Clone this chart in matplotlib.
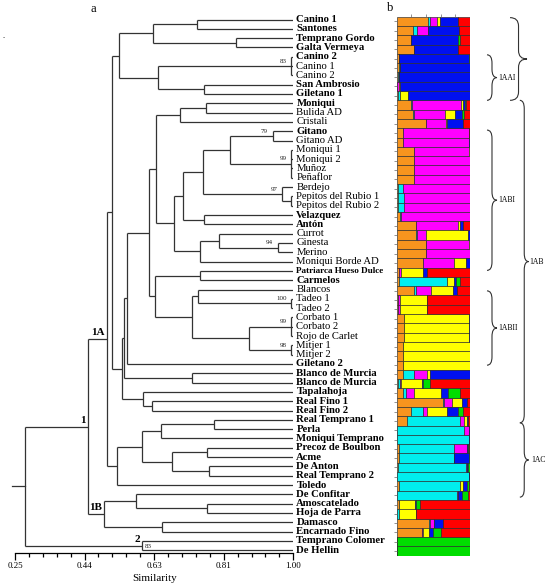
import numpy as np
import matplotlib.pyplot as plt
from matplotlib.path import Path
import matplotlib.patches as mpatches
from matplotlib.transforms import blended_transform_factory

plt.rcParams['font.family'] = ['Liberation Serif', 'DejaVu Serif']

# ---- leaves (top to bottom) ----
leaves = ["Canino 1", "Santones", "Temprano Gordo", "Galta Vermeya", "Canino 2",
          "Canino 1", "Canino 2", "San Ambrosio", "Giletano 1", "Moniqui",
          "Bulida AD", "Cristali", "Gitano", "Gitano AD", "Moniqui 1",
          "Moniqui 2", "Muñoz", "Peñaflor", "Berdejo", "Pepitos del Rubio 1",
          "Pepitos del Rubio 2", "Velazquez", "Antón", "Currot", "Ginesta",
          "Merino", "Moniqui Borde AD", "Patriarca Hueso Dulce", "Carmelos", "Blancos",
          "Tadeo 1", "Tadeo 2", "Corbato 1", "Corbato 2", "Rojo de Carlet",
          "Mitjer 1", "Mitjer 2", "Giletano 2", "Blanco de Murcia", "Blanco de Murcia",
          "Tapalahoja", "Real Fino 1", "Real Fino 2", "Real Temprano 1", "Perla",
          "Moniqui Temprano", "Precoz de Boulbon", "Acme", "De Anton", "Real Temprano 2",
          "Toledo", "De Confitar", "Amoscatelado", "Hoja de Parra", "Damasco",
          "Encarnado Fino", "Temprano Colomer", "De Hellin"]
bold = [1, 1, 1, 1, 1, 0, 0, 1, 1, 1,
        0, 0, 1, 0, 0, 0, 0, 0, 0, 0,
        0, 1, 1, 0, 0, 0, 0, 1, 1, 0,
        0, 0, 0, 0, 0, 0, 0, 1, 1, 1,
        1, 1, 1, 1, 1, 1, 1, 1, 1, 1,
        1, 1, 1, 1, 1, 1, 1, 1]

# ---- dendrogram merges: (node, children, similarity) ----
node_keys = ["A", "B", "C", "D", "E", "F", "G", "H", "I", "J", "K", "L", "N", "M",
             "O", "P2", "P", "Q", "R", "S", "T", "U", "W", "Z", "Y", "AB", "AC",
             "AA", "X", "AD", "V", "AE", "AG", "AF", "AH", "AI", "AK", "AJ",
             "AL", "AM", "AN", "AO", "AP", "AQ", "AR", "AS", "AT", "AU", "AV",
             "AW", "AX", "AY", "AZ"]
node_kids = [[0, 1], [2, 3], ["A", "B"], [4, 5, 6], [7, 8], ["D", "E"], ["C", "F"],
             [9, 10], ["H", 11], [12, 13], [14, 15, 16, 17], ["J", "K"], [19, 20],
             [18, "N"], ["L", "M"], [21, 22], ["O", "P2"], [24, 25], [23, "Q"],
             ["R", 26], ["P", "S"], ["I", "T"], [27, 28], [30, 31], [29, "Z"],
             [32, 33, 34], [35, 36], ["AB", "AC"], ["Y", "AA"], ["W", "X"],
             ["U", "AD"], ["V", 37], [38, 39], ["AE", "AG"], [41, 42], [40, "AH"],
             ["AF", "AI"], ["G", "AK"], [43, 44], ["AL", 45], [46, 47], [48, 49],
             ["AN", "AO"], ["AM", "AP"], ["AQ", 50], ["AJ", "AR"], [52, 53],
             [51, "AT"], [54, 55], ["AU", "AV"], ["AS", "AW"], [56, 57], ["AX", "AY"]]
node_sim = [0.741, 0.846, 0.622, 0.995, 0.759, 0.635, 0.530, 0.765, 0.695, 0.945,
            0.995, 0.830, 0.995, 0.970, 0.757, 0.759, 0.703, 0.959, 0.800, 0.749,
            0.679, 0.630, 0.749, 0.995, 0.743, 0.995, 0.995, 0.881, 0.727, 0.627,
            0.611, 0.552, 0.727, 0.544, 0.619, 0.595, 0.538, 0.512, 0.786, 0.644,
            0.768, 0.773, 0.673, 0.592, 0.525, 0.498, 0.768, 0.576, 0.646, 0.490,
            0.447, 0.592, 0.277]
support = {"D": "83", "J": "79", "K": "99", "M": "97", "Q": "94",
           "Z": "100", "AB": "99", "AC": "98"}
group_lab = {"AS": "1A", "AX": "1", "AW": "1B", "AY": "2"}

# ---- structure proportions per row (K = 7) ----
orange = [.43, .227, .195, .24, .03, .03, .02, .01, .02, .195, .227, .395, .09, .09, .236,
          .24, .24, .24, .02, .02, .02, .05, .26, .27, .40, .40, .36, .03, .03, .24,
          .02, .02, .10, .10, .10, .08, .08, .08, .09, .02, .09, .63, .20, .145, .01,
          .01, .03, .03, .02, .01, .03, .01, .036, 0, .445, .34, .005, .005]
cyan = [.02, .055, 0, 0, 0, .01, .015, 0, .03, .01, .01, .01, 0, 0, 0,
        0, 0, 0, .07, .08, .08, .01, .01, .01, 0, 0, 0, 0, .66, .02,
        0, 0, 0, 0, 0, 0, 0, 0, .15, .03, .035, .01, .16, .72, .91,
        .97, .75, .75, .92, .98, .83, .81, 0, .035, .01, .01, 0, 0]
magenta = [.10, .14, 0, 0, 0, 0, 0, .02, 0, .67, .418, .27, .89, .895, .75,
           .755, .76, .76, .91, .90, .90, .94, .57, .12, .58, .60, .42, .03, 0, .21,
           .02, .02, 0, 0, 0, 0, 0, 0, .17, .01, .115, .11, .05, .055, .06,
           0, .18, 0, .02, 0, 0, .01, 0, 0, .05, .01, 0, 0]
yellow = [.045, 0, 0, 0, 0, 0, 0, .02, .11, .035, .14, .005, .01, 0, .014,
          .005, 0, 0, 0, 0, 0, 0, .02, .57, .02, 0, .17, .30, .09, .30,
          .38, .38, .89, .89, .89, .92, .92, .92, .04, .28, .37, .14, .27, .035, 0,
          0, 0, 0, 0, 0, .04, 0, .214, .23, .01, .08, 0, 0]
blue = [.235, .425, .645, .59, .96, .96, .965, .95, .84, .02, .10, .22, 0, .015, 0,
        0, 0, 0, 0, 0, 0, 0, .04, .03, 0, 0, .05, .06, .03, .05,
        0, 0, .01, .01, .01, 0, 0, 0, .55, .02, .09, .065, .15, .02, .02,
        .02, .01, .20, .01, .01, .06, .06, .01, .005, .11, .06, .005, .005]
green = [0, 0, .02, .01, .01, 0, 0, 0, 0, .015, .02, 0, 0, 0, 0,
         0, 0, 0, 0, 0, 0, 0, .01, 0, 0, 0, 0, 0, .05, 0,
         0, 0, 0, 0, 0, 0, 0, 0, 0, .10, .165, 0, .07, 0, 0,
         0, .02, .02, .03, 0, .02, .08, .064, 0, .01, .10, .99, .99]
red = [.17, .153, .14, .16, 0, 0, 0, 0, 0, .055, .085, .10, .01, 0, 0,
       0, 0, 0, 0, 0, 0, 0, .09, 0, 0, 0, 0, .58, .14, .18,
       .58, .58, 0, 0, 0, 0, 0, 0, 0, .54, .135, .045, .11, .025, 0,
       0, .01, 0, 0, 0, .02, .03, .676, .73, .365, .40, 0, 0]
clusters = [orange, cyan, magenta, yellow, blue, green, red]
cluster_colors = ['#F7941E', '#00EEEE', '#FF00FF', '#FFFF00', '#0010F0', '#00DD00', '#FF0000']

fig = plt.figure(figsize=(5.51, 5.87), dpi=100)

# ================= a: dendrogram =================
ax = fig.add_axes([15 / 551, 1 - 552.7 / 587, 278.3 / 551, 537.85 / 587])
ax.set_xlim(0.25, 1.0)
ax.set_ylim(57.27, -0.5)
lc = '#333333'
lw = 0.9

pos = {i: (1.0, float(i)) for i in range(len(leaves))}
for key, kids, sim in zip(node_keys, node_kids, node_sim):
    ys = [pos[k][1] for k in kids]
    ax.plot([sim, sim], [min(ys), max(ys)], color=lc, lw=lw, solid_capstyle='butt')
    for k in kids:
        ax.plot([sim, pos[k][0]], [pos[k][1], pos[k][1]], color=lc, lw=lw,
                solid_capstyle='butt')
    pos[key] = (sim, (min(ys) + max(ys)) / 2)

root_sim, root_y = pos["AZ"]
ax.plot([0.242, root_sim], [root_y, root_y], color=lc, lw=lw, clip_on=False)

for key, txt in support.items():
    ax.annotate(txt, pos[key], xytext=(-3.5, 3.5), textcoords='offset points',
                ha='right', va='center', fontsize=5, color='#222')
ax.annotate("83", pos["AY"], xytext=(2, -0.5), textcoords='offset points',
            ha='left', va='center', fontsize=5, color='#222')
for key, txt in group_lab.items():
    ax.annotate(txt, pos[key], xytext=(-1.5, 1.2), textcoords='offset points',
                ha='right', va='bottom', fontsize=8, fontweight='bold')

for i, name in enumerate(leaves):
    ax.annotate(name, (1.0, i), xytext=(2.2, 0), textcoords='offset points',
                ha='left', va='center', annotation_clip=False,
                fontsize=6.6 if i == 27 else 7.7,
                fontweight='bold' if bold[i] else 'normal')

ticks = 0.25 + 0.0375 * np.arange(21)
ax.set_xticks(ticks[::5])
ax.set_xticklabels(["0.25", "0.44", "0.63", "0.81", "1.00"])
ax.set_xticks(ticks, minor=True)
ax.tick_params(axis='x', which='major', length=5, width=0.9, labelsize=6.5, pad=1.5)
ax.tick_params(axis='x', which='minor', length=3, width=0.9)
ax.set_yticks([])
for s in ['left', 'right', 'top']:
    ax.spines[s].set_visible(False)
ax.spines['bottom'].set_linewidth(0.9)
ax.set_xlabel("Similarity", fontsize=8, labelpad=3)

# ================= b: structure bars =================
bax = fig.add_axes([396.7 / 551, 1 - 555.7 / 587, 73.3 / 551, 539 / 587])
rows = np.arange(len(leaves))
left = np.zeros(len(leaves))
for vals, col in zip(clusters, cluster_colors):
    vals = np.array(vals)
    bax.barh(rows, vals, left=left, height=1.0, color=col,
             edgecolor='#2a2a2a', linewidth=0.45)
    left += vals
bax.set_xlim(0, 1)
bax.set_ylim(57.5, -0.5)
for s in bax.spines.values():
    s.set_visible(False)
bax.xaxis.tick_top()
bax.set_xticks([0.2, 0.4, 0.6, 0.8])
bax.set_xticklabels([])
bax.set_yticks(rows)
bax.set_yticklabels([])
bax.tick_params(length=2, width=0.5, color='#666')


def brace(x0, x1, y0, y1, label=None, lx=None):
    tr = blended_transform_factory(bax.transAxes, bax.transData)
    xm = (x0 + x1) / 2
    ym = (y0 + y1) / 2
    h = 0.9
    verts = [(x0, y0), (xm, y0), (xm, y0 + h), (xm, ym - h), (xm, ym), (x1, ym),
             (xm, ym), (xm, ym + h), (xm, y1 - h), (xm, y1), (x0, y1)]
    codes = [Path.MOVETO, Path.CURVE3, Path.CURVE3, Path.LINETO, Path.CURVE3,
             Path.CURVE3, Path.CURVE3, Path.CURVE3, Path.LINETO, Path.CURVE3,
             Path.CURVE3]
    patch = mpatches.PathPatch(Path(verts, codes), fill=False, lw=0.8,
                               edgecolor='#333', transform=tr, clip_on=False)
    bax.add_patch(patch)
    if label:
        bax.text(lx, ym, label, transform=tr, ha='left', va='center',
                 fontsize=5.5, clip_on=False)


brace(1.546, 1.778, -0.4, 8.5)
brace(1.232, 1.368, 3.6, 8.5, "1AAI", 1.38)
brace(1.68, 1.80, 8.5, 43.2, "1AB", 1.81)
brace(1.232, 1.368, 11.7, 26.8, "1ABI", 1.38)
brace(1.232, 1.368, 29.0, 37.0, "1ABII", 1.38)
brace(1.68, 1.80, 43.2, 51.2, "1AC", 1.84)

fig.text(93 / 551, 1 - 9 / 587, "a", fontsize=9, ha='center', va='center')
fig.text(390 / 551, 1 - 8 / 587, "b", fontsize=9, ha='center', va='center')
fig.text(4 / 551, 1 - 36 / 587, ".", fontsize=6, ha='center', va='center')

fig.savefig("out.png", dpi=100)
